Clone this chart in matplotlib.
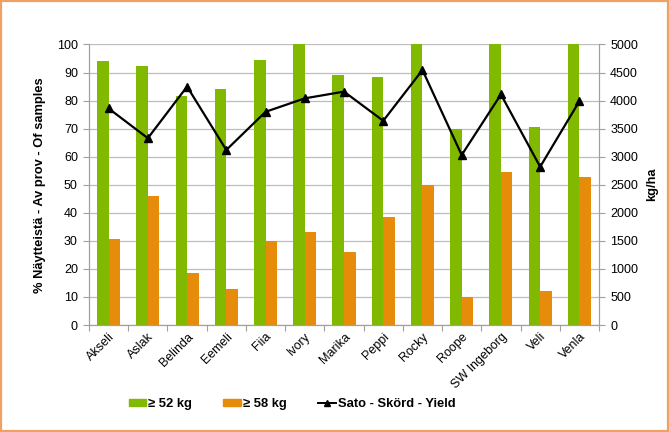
import matplotlib
matplotlib.use("Agg")
import matplotlib.pyplot as plt
import numpy as np
from matplotlib.patches import Rectangle
from matplotlib.lines import Line2D

plt.rcParams['font.family'] = ['Liberation Sans', 'DejaVu Sans']

categories = ["Akseli", "Aslak", "Belinda", "Eemeli", "Fiia", "Ivory", "Marika",
              "Peppi", "Rocky", "Roope", "SW Ingeborg", "Veli", "Venla"]
pct_52 = [94, 92.2, 81.5, 84, 94.5, 100, 89, 88.5, 100, 70, 100, 70.5, 100]
pct_58 = [30.5, 46, 18.5, 13, 30, 33, 26, 38.5, 50, 10, 54.5, 12, 52.8]
yield_kg = [3860, 3330, 4250, 3120, 3800, 4040, 4160, 3640, 4545, 3030, 4110, 2820, 3990]

green = "#80B900"
orange = "#E68C0A"

fig = plt.figure(figsize=(6.69, 4.32), dpi=100)
ax = fig.add_axes([89/669, 1 - 325/432, 510/669, 280.5/432])
ax2 = ax.twinx()

x = np.arange(len(categories))
w = 0.295
ax.bar(x - w/2, pct_52, width=w, color=green, zorder=2)
ax.bar(x + w/2, pct_58, width=w, color=orange, zorder=2)
ax.set_xlim(-0.5, len(categories) - 0.5)
ax.set_ylim(0, 100)
ax.set_yticks(np.arange(0, 101, 10))
ax.yaxis.grid(True, color="#BDBDBD", linewidth=0.9, zorder=0)
ax.set_axisbelow(True)

ax2.plot(x, yield_kg, color="black", marker="^", markersize=6, linewidth=1.6, zorder=3)
ax2.set_ylim(0, 5000)
ax2.set_yticks(np.arange(0, 5001, 500))

for a in (ax, ax2):
    a.spines["top"].set_visible(False)
    a.spines["left"].set_color("#A0A0A0")
    a.spines["right"].set_color("#A0A0A0")
    a.spines["bottom"].set_color("#A0A0A0")
    a.tick_params(axis="y", labelsize=9, color="#A0A0A0", length=4, width=0.8, pad=4)

ax.set_xticks(x)
ax.set_xticklabels(categories, rotation=45, ha="right", rotation_mode="anchor", fontsize=9)
ax.tick_params(axis="x", length=0, pad=4)
ax.set_xticks(np.arange(-0.5, len(categories), 1), minor=True)
ax.tick_params(axis="x", which="minor", length=4, color="#A0A0A0", width=0.8)

ax.set_ylabel("% Näytteistä - Av prov - Of samples", fontsize=9.3, fontweight="bold", labelpad=8)
ax2.set_ylabel("kg/ha", fontsize=9.3, fontweight="bold", labelpad=6)

handles = [Rectangle((0, 0), 1, 1, color=green),
           Rectangle((0, 0), 1, 1, color=orange),
           Line2D([0], [0], color="black", marker="^", markersize=5, linewidth=1.4)]
labels = ["≥ 52 kg", "≥ 58 kg", "Sato - Skörd - Yield"]
fig.legend(handles, labels, loc="center", bbox_to_anchor=(292/669, 1 - 404/432), ncol=3,
           frameon=False, prop={"size": 9.4, "weight": "bold"}, handlelength=1.35,
           handleheight=0.45, handletextpad=0.15, columnspacing=2.4)

border = Rectangle((0.0015, 0.002), 0.997, 0.995, transform=fig.transFigure, fill=False,
                   edgecolor="#F0A060", linewidth=1.6)
fig.patches.append(border)

fig.savefig("out.png", dpi=100)
